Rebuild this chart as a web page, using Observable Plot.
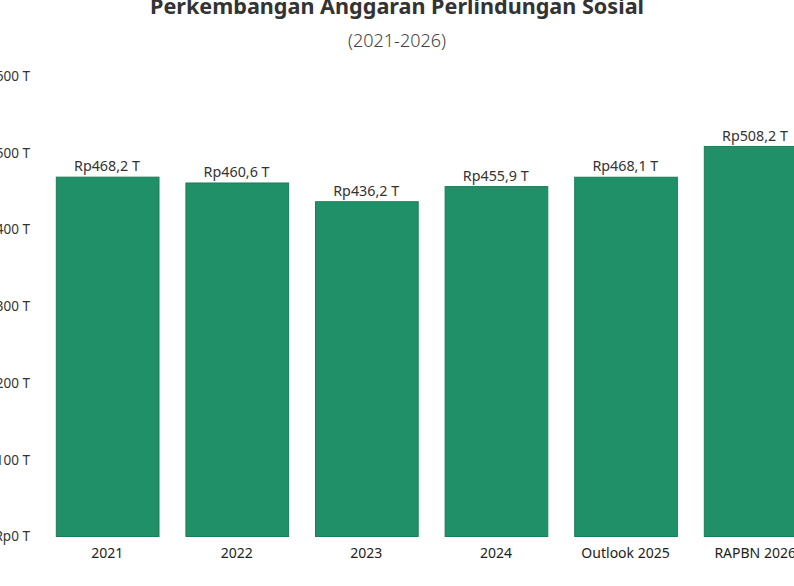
<!DOCTYPE html>
<html>
<head>
<meta charset="utf-8">
<script src="https://cdn.jsdelivr.net/npm/d3@7"></script>
<script src="https://cdn.jsdelivr.net/npm/@observablehq/plot@0.6"></script>
<style>
html,body{margin:0;padding:0;width:794px;height:586px;overflow:hidden;background:#fff;}
#head{height:55px;position:relative;overflow:visible;font-family:"Noto Sans",sans-serif;text-align:center;width:794px;}
#title{position:absolute;left:0;width:794px;top:-9px;font-size:21.6px;font-weight:700;color:#333;line-height:30px;}
#sub{position:absolute;left:0;width:794px;top:27px;font-size:18px;font-weight:300;color:#444;line-height:26px;}
#chart svg{display:block;overflow:hidden;max-width:none !important;width:834px !important;height:531px !important;}
</style>
</head>
<body>
<div id="head"><div id="title">Perkembangan Anggaran Perlindungan Sosial</div><div id="sub">(2021-2026)</div></div>
<div id="chart"></div>
<script>
const categories = ["2021","2022","2023","2024","Outlook 2025","RAPBN 2026"];
const values = [468.2,460.6,436.2,455.9,468.1,508.2];
const valueLabels = ["Rp468,2 T","Rp460,6 T","Rp436,2 T","Rp455,9 T","Rp468,1 T","Rp508,2 T"];
const yTicks = [0,100,200,300,400,500,600];
const rows = categories.map((c,i)=>({c,v:values[i],l:valueLabels[i]}));
const plot = Plot.plot({
  width: 834, height: 531,
  marginLeft: 29.9, marginRight: 0.6, marginTop: 21, marginBottom: 49.5,
  style:{fontFamily:'"Noto Sans",sans-serif',fontSize:"14px",color:"#333",background:"#fff"},
  x:{domain:categories,label:null,padding:0.2,round:false},
  y:{domain:[0,600],label:null},
  marks:[
    Plot.barY(rows,{x:"c",y:"v",fill:"#209068",stroke:"#1a7d5a",strokeWidth:1,insetLeft:0.5,insetRight:0.5}),
    Plot.text(rows,{x:"c",y:"v",text:"l",dy:-11,dx:-1.2,fontSize:14.3,fill:"#333"}),
    Plot.axisX({tickSize:0,tickPadding:11,fontSize:14,dx:-1,label:null,fill:"#222"}),
    Plot.axisY({ticks:yTicks,tickSize:0,tickPadding:0.5,fontSize:13.5,label:null,fill:"#333",tickFormat:d=>`Rp${d} T`})
  ]
});
document.getElementById("chart").append(plot);
</script>
</body>
</html>
